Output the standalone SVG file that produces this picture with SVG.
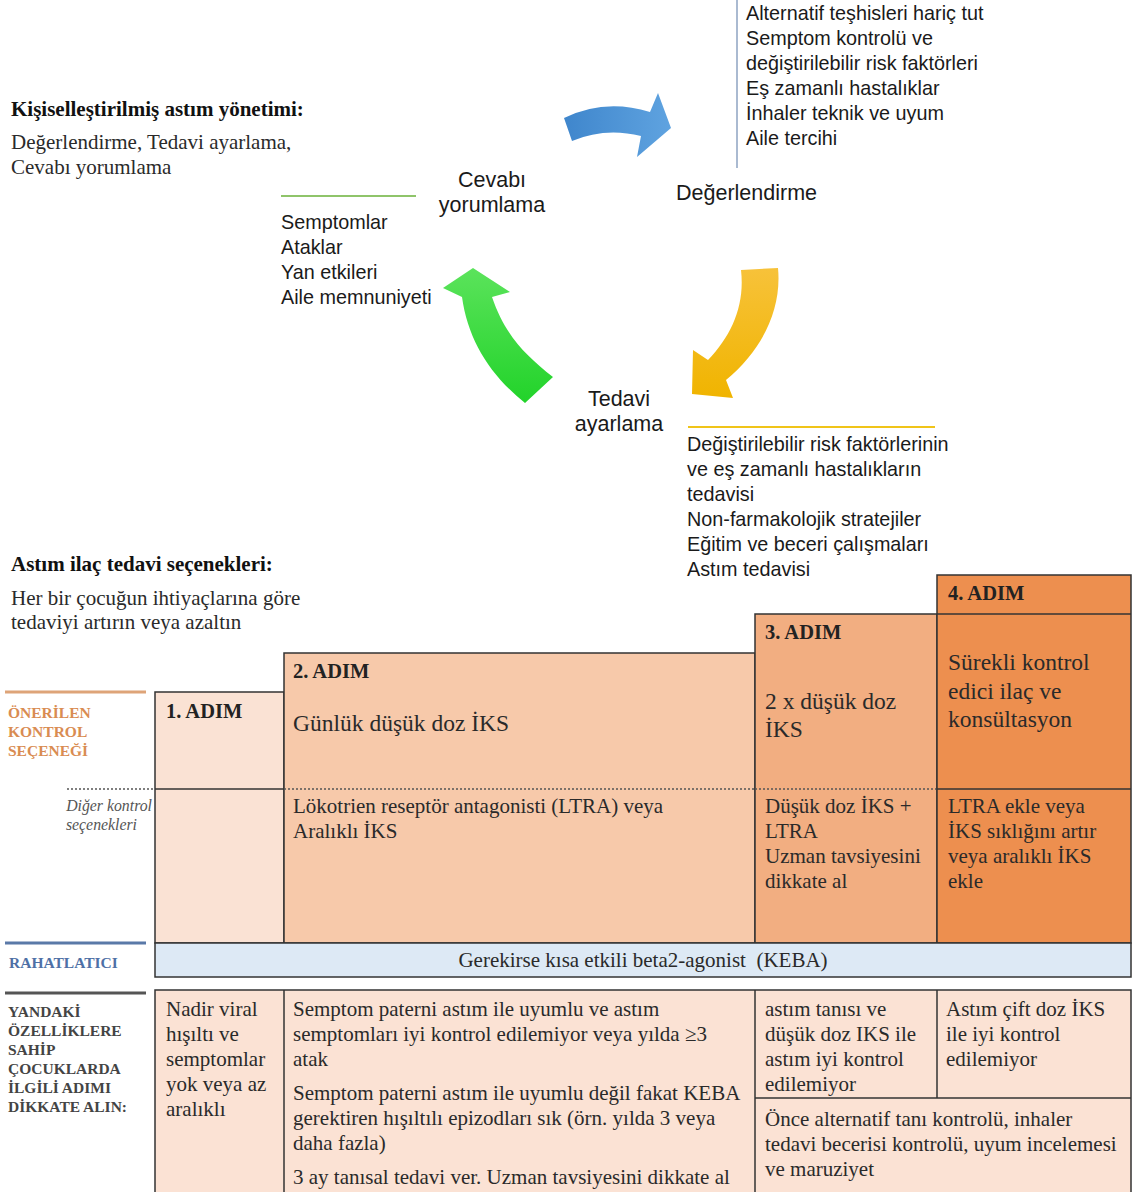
<svg xmlns="http://www.w3.org/2000/svg" width="1136" height="1192" viewBox="0 0 1136 1192">
<defs>
<linearGradient id="gBlue" x1="0" y1="0" x2="1" y2="0"><stop offset="0" stop-color="#3f86cc"/><stop offset="1" stop-color="#5fa3e0"/></linearGradient>
<linearGradient id="gYellow" x1="0" y1="0" x2="0" y2="1"><stop offset="0" stop-color="#f7c23a"/><stop offset="1" stop-color="#f0b400"/></linearGradient>
<linearGradient id="gGreen" x1="0" y1="1" x2="0" y2="0"><stop offset="0" stop-color="#22d32a"/><stop offset="1" stop-color="#5be35b"/></linearGradient>
<style>
.sans{font-family:"Liberation Sans",Arial,sans-serif;fill:#1a1a1a}
.lst{font-size:19.8px}
.big{font-size:21.5px}
.ser{font-family:"Liberation Serif","Times New Roman",serif;fill:#2a2a2a}
.hd{font-weight:bold;font-size:21px;fill:#111}
.bd{font-size:21px}
.cell{font-size:21px}
.cellb{font-size:23.5px}
.step{font-weight:bold;font-size:20.5px;fill:#222}
.lab{font-weight:bold;font-size:15.5px}
.cellrect{stroke:#333;stroke-width:1.5}
.ln{stroke:#333;stroke-width:1.5;fill:none}
.dot{stroke:#555;stroke-width:1.3;stroke-dasharray:2 2;fill:none}
</style>
</defs>
<rect width="1136" height="1192" fill="#ffffff"/>

<g id="intro">
<text class="ser hd" x="11" y="116">Kişiselleştirilmiş astım yönetimi:</text>
<text class="ser bd" x="11" y="149">Değerlendirme, Tedavi ayarlama,</text>
<text class="ser bd" x="11" y="174">Cevabı yorumlama</text>
</g>

<g id="connectors">
<path id="arrow-blue" d="M564,118 Q605,98 650,112 L658,93 L671,128 L637,157 L641,136 Q605,127 572,141 Z" fill="url(#gBlue)"/>
<path id="arrow-yellow" d="M741,270 L778,268 C782,310 762,350 726,380 L733,398 L692,394 L693,350 L708,360 C732,335 745,305 741,270 Z" fill="url(#gYellow)"/>
<path id="arrow-green" d="M462,297 L443,288 L473,268 L510,292 L492,297 C505,335 525,355 553,377 L525,403 C490,375 468,340 462,297 Z" fill="url(#gGreen)"/>
</g>

<g id="node-degerlendirme">
<line x1="737" y1="0" x2="737" y2="168" stroke="#8ea3c2" stroke-width="1.5"/>
<text class="sans lst" x="746" y="20">Alternatif teşhisleri hariç tut</text>
<text class="sans lst" x="746" y="45">Semptom kontrolü ve</text>
<text class="sans lst" x="746" y="70">değiştirilebilir risk faktörleri</text>
<text class="sans lst" x="746" y="95">Eş zamanlı hastalıklar</text>
<text class="sans lst" x="746" y="120">İnhaler teknik ve uyum</text>
<text class="sans lst" x="746" y="145">Aile tercihi</text>
<text class="sans big" x="676" y="200">Değerlendirme</text>
</g>

<g id="node-cevabi">
<text class="sans big" x="492" y="187" text-anchor="middle">Cevabı</text>
<text class="sans big" x="492" y="212" text-anchor="middle">yorumlama</text>
<line x1="281" y1="196" x2="416" y2="196" stroke="#8fc46a" stroke-width="2"/>
<text class="sans lst" x="281" y="229">Semptomlar</text>
<text class="sans lst" x="281" y="254">Ataklar</text>
<text class="sans lst" x="281" y="279">Yan etkileri</text>
<text class="sans lst" x="281" y="304">Aile memnuniyeti</text>
</g>

<g id="node-tedavi">
<text class="sans big" x="619" y="406" text-anchor="middle">Tedavi</text>
<text class="sans big" x="619" y="431" text-anchor="middle">ayarlama</text>
<line x1="688" y1="427" x2="935" y2="427" stroke="#f0c419" stroke-width="2"/>
<text class="sans lst" x="687" y="451">Değiştirilebilir risk faktörlerinin</text>
<text class="sans lst" x="687" y="476">ve eş zamanlı hastalıkların</text>
<text class="sans lst" x="687" y="501">tedavisi</text>
<text class="sans lst" x="687" y="526">Non-farmakolojik stratejiler</text>
<text class="sans lst" x="687" y="551">Eğitim ve beceri çalışmaları</text>
<text class="sans lst" x="687" y="576">Astım tedavisi</text>
</g>

<g id="options-title">
<text class="ser hd" x="11" y="571">Astım ilaç tedavi seçenekleri:</text>
<text class="ser bd" x="11" y="605">Her bir çocuğun ihtiyaçlarına göre</text>
<text class="ser bd" x="11" y="629">tedaviyi artırın veya azaltın</text>
</g>

<g id="row-labels">
<line x1="5" y1="692" x2="146" y2="692" stroke="#dea478" stroke-width="3"/>
<text class="ser lab" style="fill:#d98c52" x="8" y="718">ÖNERİLEN</text>
<text class="ser lab" style="fill:#d98c52" x="8" y="737">KONTROL</text>
<text class="ser lab" style="fill:#d98c52" x="8" y="756">SEÇENEĞİ</text>
<line class="dot" x1="67" y1="789" x2="155" y2="789"/>
<text class="ser" style="font-style:italic;font-size:15.8px;fill:#555" x="152" y="811" text-anchor="end">Diğer kontrol</text>
<text class="ser" style="font-style:italic;font-size:15.8px;fill:#555" x="137" y="830" text-anchor="end">seçenekleri</text>
<line x1="5" y1="943" x2="146" y2="943" stroke="#5a79a8" stroke-width="3"/>
<text class="ser lab" style="fill:#4e70a6" x="9" y="968">RAHATLATICI</text>
<line x1="5" y1="993" x2="146" y2="993" stroke="#555" stroke-width="3"/>
<text class="ser lab" style="fill:#444" x="8" y="1017">YANDAKİ</text>
<text class="ser lab" style="fill:#444" x="8" y="1036">ÖZELLİKLERE</text>
<text class="ser lab" style="fill:#444" x="8" y="1055">SAHİP</text>
<text class="ser lab" style="fill:#444" x="8" y="1074">ÇOCUKLARDA</text>
<text class="ser lab" style="fill:#444" x="8" y="1093">İLGİLİ ADIMI</text>
<text class="ser lab" style="fill:#444" x="8" y="1112">DİKKATE ALIN:</text>
</g>

<g id="step1">
<rect class="cellrect" x="155" y="692" width="129" height="251" fill="#fae2d4"/>
<line class="ln" x1="155" y1="789" x2="284" y2="789"/>
<text class="ser step" x="166" y="718">1. ADIM</text>
</g>

<g id="step2">
<rect class="cellrect" x="284" y="653" width="471" height="290" fill="#f7c9aa"/>
<line class="dot" x1="284" y1="789" x2="755" y2="789"/>
<text class="ser step" x="293" y="678">2. ADIM</text>
<text class="ser cellb" x="293" y="731">Günlük düşük doz İKS</text>
<text class="ser cell" x="293" y="813">Lökotrien reseptör antagonisti (LTRA) veya</text>
<text class="ser cell" x="293" y="838">Aralıklı İKS</text>
</g>

<g id="step3">
<rect class="cellrect" x="755" y="614" width="182" height="329" fill="#f2ae81"/>
<line class="dot" x1="755" y1="789" x2="937" y2="789"/>
<text class="ser step" x="765" y="639">3. ADIM</text>
<text class="ser cellb" x="765" y="709">2 x düşük doz</text>
<text class="ser cellb" x="765" y="737">İKS</text>
<text class="ser cell" x="765" y="813">Düşük doz İKS +</text>
<text class="ser cell" x="765" y="838">LTRA</text>
<text class="ser cell" x="765" y="863">Uzman tavsiyesini</text>
<text class="ser cell" x="765" y="888">dikkate al</text>
</g>

<g id="step4">
<rect class="cellrect" x="937" y="575" width="194" height="368" fill="#ed8f4f"/>
<line class="ln" x1="937" y1="614" x2="1131" y2="614"/>
<line class="ln" x1="937" y1="789" x2="1131" y2="789"/>
<text class="ser step" x="948" y="600">4. ADIM</text>
<text class="ser cellb" x="948" y="670">Sürekli kontrol</text>
<text class="ser cellb" x="948" y="699">edici ilaç ve</text>
<text class="ser cellb" x="948" y="727">konsültasyon</text>
<text class="ser cell" x="948" y="813">LTRA ekle veya</text>
<text class="ser cell" x="948" y="838">İKS sıklığını artır</text>
<text class="ser cell" x="948" y="863">veya aralıklı İKS</text>
<text class="ser cell" x="948" y="888">ekle</text>
</g>

<g id="reliever">
<rect class="cellrect" x="155" y="943" width="976" height="34" fill="#dde9f5"/>
<text class="ser cell" x="643" y="967" text-anchor="middle">Gerekirse kısa etkili beta2-agonist &#160;(KEBA)</text>
</g>

<g id="criteria">
<rect class="cellrect" x="155" y="990" width="976" height="210" fill="#fbe2d4"/>
<line class="ln" x1="284" y1="990" x2="284" y2="1192"/>
<line class="ln" x1="755" y1="990" x2="755" y2="1192"/>
<line class="ln" x1="937" y1="990" x2="937" y2="1098"/>
<line class="ln" x1="755" y1="1098" x2="1131" y2="1098"/>
<text class="ser cell" x="166" y="1016">Nadir viral</text>
<text class="ser cell" x="166" y="1041">hışıltı ve</text>
<text class="ser cell" x="166" y="1066">semptomlar</text>
<text class="ser cell" x="166" y="1091">yok veya az</text>
<text class="ser cell" x="166" y="1116">aralıklı</text>
<text class="ser cell" x="293" y="1016">Semptom paterni astım ile uyumlu ve astım</text>
<text class="ser cell" x="293" y="1041">semptomları iyi kontrol edilemiyor veya yılda ≥3</text>
<text class="ser cell" x="293" y="1066">atak</text>
<text class="ser cell" x="293" y="1100">Semptom paterni astım ile uyumlu değil fakat KEBA</text>
<text class="ser cell" x="293" y="1125">gerektiren hışıltılı epizodları sık (örn. yılda 3 veya</text>
<text class="ser cell" x="293" y="1150">daha fazla)</text>
<text class="ser cell" x="293" y="1184">3 ay tanısal tedavi ver. Uzman tavsiyesini dikkate al</text>
<text class="ser cell" x="765" y="1016">astım tanısı ve</text>
<text class="ser cell" x="765" y="1041">düşük doz IKS ile</text>
<text class="ser cell" x="765" y="1066">astım iyi kontrol</text>
<text class="ser cell" x="765" y="1091">edilemiyor</text>
<text class="ser cell" x="946" y="1016">Astım çift doz İKS</text>
<text class="ser cell" x="946" y="1041">ile iyi kontrol</text>
<text class="ser cell" x="946" y="1066">edilemiyor</text>
<text class="ser cell" x="765" y="1126">Önce alternatif tanı kontrolü, inhaler</text>
<text class="ser cell" x="765" y="1151">tedavi becerisi kontrolü, uyum incelemesi</text>
<text class="ser cell" x="765" y="1176">ve maruziyet</text>
</g>
</svg>
